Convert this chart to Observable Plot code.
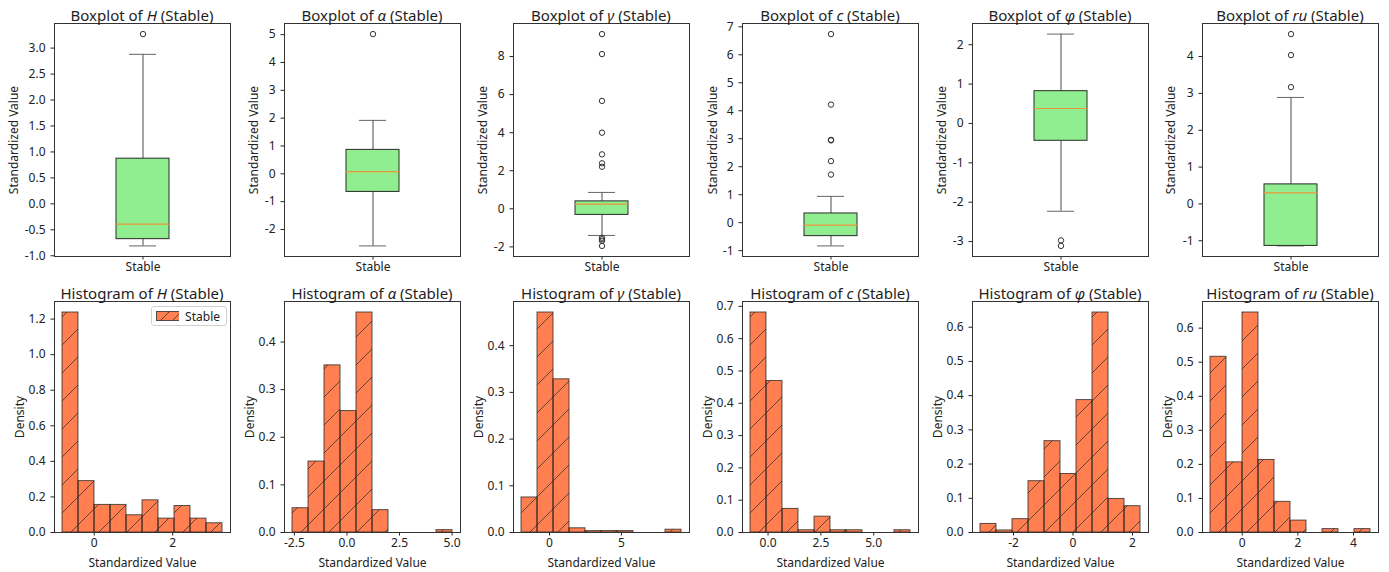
<!DOCTYPE html>
<html><head><meta charset="utf-8">
<script src="https://cdn.jsdelivr.net/npm/d3@7"></script>
<script src="https://cdn.jsdelivr.net/npm/@observablehq/plot@0.6"></script>
<style>
body{margin:0;background:#fff;font-family:"Noto Sans",sans-serif;}
#root{position:relative;width:1389px;height:572px;overflow:hidden;background:#fff}
#root svg{position:absolute}
.title{position:absolute;font-size:15px;color:#1e1e1e;white-space:nowrap;transform:translate(-50%,-50%);line-height:1}
.legend{position:absolute;border:1px solid #d0d0d0;border-radius:3px;background:rgba(255,255,255,0.8);font-size:12px;color:#222;display:flex;align-items:center;padding:0 6px 0 4px;box-sizing:border-box}
</style></head><body><div id="root"></div>
<script>
// ---------- data ----------
const variables = ["H", "α", "γ", "c", "φ", "ru"];
const category = ["Stable"];

// boxplot statistics (standardized values)
const q1          = [-0.68, -0.65, -0.32, -0.48, -0.44, -1.14];
const median      = [-0.39,  0.08,  0.25, -0.09,  0.38,  0.30];
const q3          = [ 0.87,  0.86,  0.39,  0.33,  0.82,  0.53];
const whiskerLow  = [-0.81, -2.59, -1.40, -0.83, -2.23, -1.14];
const whiskerHigh = [ 2.88,  1.92,  0.86,  0.94,  2.27,  2.89];
const outliersH     = [3.27];
const outliersAlpha = [5.02];
const outliersGamma = [9.18, 8.13, 5.67, 4.00, 2.86, 2.39, 2.21, -1.52, -1.60, -1.68, -1.95];
const outliersC     = [6.74, 4.22, 2.96, 2.94, 2.20, 1.72];
const outliersPhi   = [-2.97, -3.11];
const outliersRu    = [4.61, 4.04, 3.17];
const outliers = [outliersH, outliersAlpha, outliersGamma, outliersC, outliersPhi, outliersRu];

// histogram data range and bar densities (10 bins each)
const dataMin = [-0.81, -2.59, -1.95, -0.83, -3.11, -1.14];
const dataMax = [ 3.27,  5.02,  9.18,  6.74,  2.27,  4.61];
const densityH     = [1.237, 0.289, 0.155, 0.155, 0.097, 0.181, 0.078, 0.149, 0.078, 0.052];
const densityAlpha = [0.051, 0.149, 0.351, 0.255, 0.462, 0.047, 0, 0, 0, 0.005];
const densityGamma = [0.075, 0.471, 0.328, 0.009, 0.003, 0.003, 0.003, 0, 0, 0.006];
const densityC     = [0.681, 0.469, 0.073, 0.007, 0.049, 0.007, 0.007, 0, 0, 0.007];
const densityPhi   = [0.025, 0.006, 0.039, 0.150, 0.267, 0.171, 0.387, 0.643, 0.098, 0.077];
const densityRu    = [0.516, 0.206, 0.646, 0.213, 0.090, 0.035, 0, 0.010, 0, 0.010];
const densities = [densityH, densityAlpha, densityGamma, densityC, densityPhi, densityRu];

// tick labels
const boxTicks = [
  [-1, -0.5, 0, 0.5, 1, 1.5, 2, 2.5, 3],
  [-2, -1, 0, 1, 2, 3, 4, 5],
  [-2, 0, 2, 4, 6, 8],
  [-1, 0, 1, 2, 3, 4, 5, 6, 7],
  [-3, -2, -1, 0, 1, 2],
  [-1, 0, 1, 2, 3, 4]
];
const boxTickDigits = [1, 0, 0, 0, 0, 0];
const histXTicks = [[0, 2], [-2.5, 0, 2.5, 5], [0, 5], [0, 2.5, 5], [-2, 0, 2], [0, 2, 4]];
const histXDigits = [0, 1, 0, 1, 0, 0];
const histYTicks = [
  [0, 0.2, 0.4, 0.6, 0.8, 1.0, 1.2],
  [0, 0.1, 0.2, 0.3, 0.4],
  [0, 0.1, 0.2, 0.3, 0.4],
  [0, 0.1, 0.2, 0.3, 0.4, 0.5, 0.6, 0.7],
  [0, 0.1, 0.2, 0.3, 0.4, 0.5, 0.6],
  [0, 0.1, 0.2, 0.3, 0.4, 0.5, 0.6]
];
const legendLabel = "Stable";

// ---------- layout ----------
const frameLeft = [54, 284, 513, 742, 972, 1202];
const FW = 176;
const topRow = {top: 23, h: 233};
const botRow = {top: 301, h: 231};
const ML = 56, MR = 4, MT = 4, MB = 40;
const FONT = '"Noto Sans", sans-serif';
const boxLabelOffset = [45, 35, 35, 34, 35, 36];
const INK = "#222";
const root = document.getElementById("root");
const fmt = (digits) => (d) => d.toFixed(digits);

function place(svg, i, row) {
  svg.style.left = (frameLeft[i] - ML) + "px";
  svg.style.top = (row.top - MT) + "px";
  root.appendChild(svg);
}
function addTitle(kind, i, row) {
  const t = document.createElement("div");
  t.className = "title";
  t.style.fontFamily = FONT;
  t.innerHTML = `${kind} of <i>${variables[i]}</i> (Stable)`;
  t.style.left = (frameLeft[i] + FW / 2) + "px";
  t.style.top = (row.top - 8) + "px";
  root.appendChild(t);
}
const baseStyle = {background: "transparent", overflow: "visible", fontFamily: FONT, fontSize: "12px", color: INK};

for (let i = 0; i < 6; i++) {
  // ----- boxplot -----
  const all = outliers[i].concat([whiskerLow[i], whiskerHigh[i]]);
  const lo = d3.min(all), hi = d3.max(all), pad = (hi - lo) * 0.05;
  const stats = [{cat: category[0], q1: q1[i], q3: q3[i], med: median[i], lo: whiskerLow[i], hi: whiskerHigh[i]}];
  const outs = outliers[i].map(v => ({cat: category[0], v}));
  const box = Plot.plot({
    width: ML + FW + MR, height: MT + topRow.h + MB,
    marginLeft: ML, marginRight: MR, marginTop: MT, marginBottom: MB,
    style: baseStyle,
    x: {type: "band", domain: category, padding: 0.537, label: null, tickSize: 3.5, tickPadding: 2},
    y: {domain: [lo - pad, hi + pad], ticks: boxTicks[i], tickFormat: fmt(boxTickDigits[i]), tickSize: 3.5,
        label: "Standardized Value", labelAnchor: "center", labelOffset: boxLabelOffset[i], labelArrow: "none"},
    marks: [
      Plot.ruleX(stats, {x: "cat", y1: "lo", y2: "q1", stroke: "#4a4a4a", strokeWidth: 1}),
      Plot.ruleX(stats, {x: "cat", y1: "q3", y2: "hi", stroke: "#4a4a4a", strokeWidth: 1}),
      Plot.tickY(stats, {x: "cat", y: "lo", insetLeft: 13, insetRight: 13, stroke: "#666", strokeWidth: 1}),
      Plot.tickY(stats, {x: "cat", y: "hi", insetLeft: 13, insetRight: 13, stroke: "#666", strokeWidth: 1}),
      Plot.barY(stats, {x: "cat", y1: "q1", y2: "q3", fill: "#90EE90", stroke: "#2a2a2a", strokeWidth: 1}),
      Plot.tickY(stats, {x: "cat", y: "med", stroke: "#e8963a", strokeWidth: 1.2}),
      Plot.dot(outs, {x: "cat", y: "v", r: 2.7, stroke: "#333", strokeWidth: 1, fill: "none"}),
      Plot.frame({stroke: "#333", strokeWidth: 1})
    ]
  });
  place(box, i, topRow);
  addTitle("Boxplot", i, topRow);

  // ----- histogram -----
  const w = (dataMax[i] - dataMin[i]) / densities[i].length;
  const bins = densities[i].map((d, k) => ({x0: dataMin[i] + k * w, x1: dataMin[i] + (k + 1) * w, d}));
  const xpad = (dataMax[i] - dataMin[i]) * 0.05;
  const ymax = d3.max(densities[i]) * 1.05;
  const hid = "hatch" + i;
  const hist = Plot.plot({
    width: ML + FW + MR, height: MT + botRow.h + MB,
    marginLeft: ML, marginRight: MR, marginTop: MT, marginBottom: MB,
    style: baseStyle,
    x: {domain: [dataMin[i] - xpad, dataMax[i] + xpad], ticks: histXTicks[i], tickFormat: fmt(histXDigits[i]), tickSize: 3.5, tickPadding: 2,
        label: "Standardized Value", labelAnchor: "center", labelOffset: 34, labelArrow: "none"},
    y: {domain: [0, ymax], ticks: histYTicks[i], tickFormat: fmt(1), tickSize: 3.5,
        label: "Density", labelAnchor: "center", labelOffset: 39, labelArrow: "none"},
    marks: [
      Plot.rectY(bins, {x1: "x0", x2: "x1", y: "d", fill: "#FF7F50"}),
      Plot.rectY(bins, {x1: "x0", x2: "x1", y: "d", fill: `url(#${hid})`, stroke: "#222", strokeOpacity: 0.75, strokeWidth: 1}),
      Plot.frame({stroke: "#333", strokeWidth: 1})
    ]
  });
  const S = 28;
  const defs = d3.select(hist).insert("defs", ":first-child");
  const pat = defs.append("pattern").attr("id", hid).attr("patternUnits", "userSpaceOnUse")
    .attr("width", S).attr("height", S);
  pat.append("path").attr("d", `M0,${S} L${S},0 M-2,2 L2,-2 M${S - 2},${S + 2} L${S + 2},${S - 2}`)
    .attr("stroke", "#333").attr("stroke-opacity", 0.8).attr("stroke-width", 1).attr("fill", "none");
  place(hist, i, botRow);
  addTitle("Histogram", i, botRow);

  if (i === 0) {
    const lg = document.createElement("div");
    lg.className = "legend";
    lg.style.fontFamily = FONT;
    lg.style.left = "151px"; lg.style.top = "306px";
    lg.style.width = "76px"; lg.style.height = "20px";
    lg.innerHTML = `<svg width="26" height="10" style="position:static;margin-right:6px"><rect x="0.5" y="0.5" width="24" height="9" fill="#FF7F50" stroke="#222" stroke-opacity="0.75"/><path d="M4,10 L14,0 M16,10 L26,0" stroke="#333" stroke-opacity="0.8"/></svg><span>${legendLabel}</span>`;
    root.appendChild(lg);
  }
}
</script></body></html>
